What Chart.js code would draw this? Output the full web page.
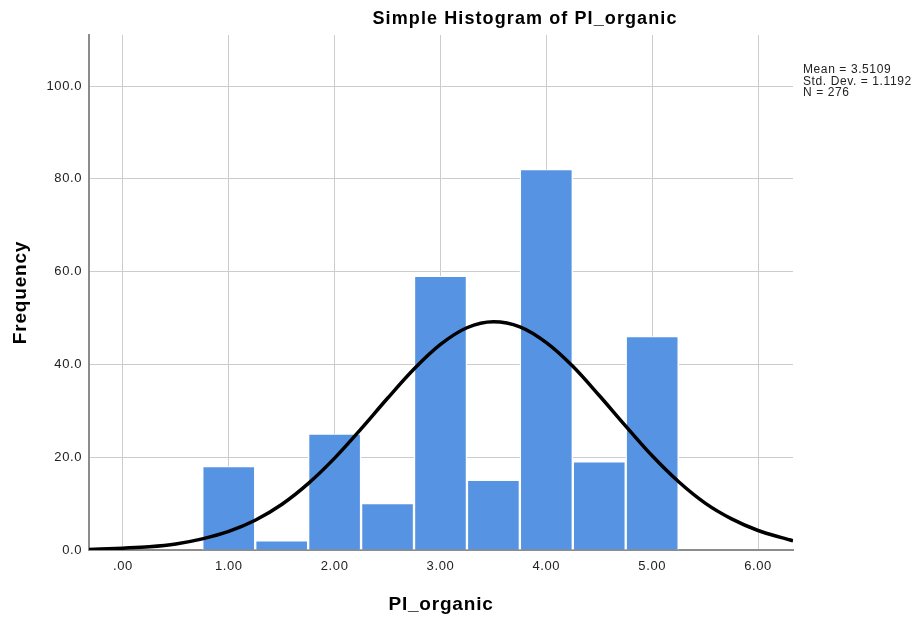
<!DOCTYPE html>
<html>
<head>
<meta charset="utf-8">
<script src="https://cdn.jsdelivr.net/npm/chart.js@4.4.1/dist/chart.umd.min.js"></script>
<style>
  html, body { margin: 0; padding: 0; background: #ffffff; }
  #wrap { width: 920px; height: 618px; position: relative; }
</style>
</head>
<body>
<div id="wrap"><canvas id="c" width="920" height="618"></canvas></div>
<script>
// Histogram bins (bin centres, width 0.5) and frequencies
const binCenters = [1.0, 1.5, 2.0, 2.5, 3.0, 3.5, 4.0, 4.5, 5.0];
const frequencies = [18, 2, 25, 10, 59, 15, 82, 19, 46];

// Normal curve points
const curveX = [-0.32, 0, 0.25, 0.5, 0.75, 1, 1.25, 1.5, 1.75, 2, 2.25, 2.5, 2.75, 3, 3.25, 3.5, 3.75, 4, 4.25, 4.5, 4.75, 5, 5.25, 5.5, 5.75, 6, 6.25, 6.33];
const curveY = [0.1, 0.4, 0.7, 1.3, 2.4, 4.0, 6.4, 9.8, 14.3, 19.8, 26.1, 32.7, 39.0, 44.3, 47.9, 49.2, 48.1, 44.7, 39.6, 33.3, 26.7, 20.3, 14.7, 10.1, 6.7, 4.2, 2.5, 2.0];

// Tick labels
const xTickValues = [0, 1, 2, 3, 4, 5, 6];
const xTickLabels = ['.00', '1.00', '2.00', '3.00', '4.00', '5.00', '6.00'];
const yTickValues = [0, 20, 40, 60, 80, 100];
const yTickLabels = ['0.0', '20.0', '40.0', '60.0', '80.0', '100.0'];

const titleText = 'Simple Histogram of PI_organic';
const xAxisTitle = 'PI_organic';
const yAxisTitle = 'Frequency';
const statsLines = ['Mean = 3.5109', 'Std. Dev. = 1.1192', 'N = 276'];

const FONT = '"Liberation Sans", Arial, sans-serif';

const spacingPlugin = {
  id: 'spacing',
  beforeDraw(chart) { chart.ctx.letterSpacing = '0.6px'; }
};

const textPlugin = {
  id: 'texts',
  afterDraw(chart) {
    const ctx = chart.ctx;
    const a = chart.chartArea;
    ctx.save();
    ctx.fillStyle = '#000';
    ctx.textAlign = 'center';
    ctx.textBaseline = 'alphabetic';
    ctx.letterSpacing = '1.1px';
    ctx.font = 'bold 18px ' + FONT;
    ctx.fillText(titleText, 525, 24);
    ctx.letterSpacing = '0.8px';
    ctx.font = 'bold 19px ' + FONT;
    ctx.fillText(xAxisTitle, (a.left + a.right) / 2, 610);
    ctx.save();
    ctx.translate(26, (a.top + a.bottom) / 2);
    ctx.rotate(-Math.PI / 2);
    ctx.fillText(yAxisTitle, 0, 0);
    ctx.restore();
    ctx.letterSpacing = '0.6px';
    ctx.font = '12px ' + FONT;
    ctx.textAlign = 'left';
    ctx.fillStyle = '#222';
    statsLines.forEach((s, i) => ctx.fillText(s, 803, 73 + i * 11.5));
    ctx.restore();
  }
};

new Chart(document.getElementById('c'), {
  type: 'bar',
  data: {
    datasets: [
      {
        type: 'line',
        data: curveX.map((x, i) => ({ x: x, y: curveY[i] })),
        borderColor: '#000000',
        borderWidth: 3.5,
        pointRadius: 0,
        fill: false,
        cubicInterpolationMode: 'monotone',
        order: 0
      },
      {
        type: 'bar',
        data: binCenters.map((x, i) => ({ x: x, y: frequencies[i] })),
        backgroundColor: '#5694E3',
        borderColor: '#ffffff',
        borderWidth: { top: 1, left: 1.5, right: 1.5, bottom: 0 },
        borderSkipped: false,
        barPercentage: 1,
        categoryPercentage: 1,
        order: 1
      }
    ]
  },
  options: {
    responsive: false,
    animation: false,
    devicePixelRatio: 1,
    layout: { padding: { left: 0, right: 127, top: 35, bottom: 0 } },
    plugins: { legend: { display: false }, tooltip: { enabled: false }, title: { display: false } },
    scales: {
      x: {
        type: 'linear',
        offset: false,
        min: -0.32,
        max: 6.33,
        afterFit(s) { s.height = 68; },
        afterBuildTicks(s) { s.ticks = xTickValues.map(v => ({ value: v })); },
        grid: { color: '#cccccc', lineWidth: 1, drawTicks: false, offset: false },
        border: { display: true, color: '#8c8c8c', width: 2 },
        ticks: {
          padding: 9,
          color: '#222',
          font: { family: FONT, size: 13 },
          maxRotation: 0,
          callback: (v) => { const i = xTickValues.indexOf(v); return i >= 0 ? xTickLabels[i] : ''; }
        }
      },
      y: {
        type: 'linear',
        min: 0,
        max: 111,
        afterFit(s) { s.width = 89; },
        afterBuildTicks(s) { s.ticks = yTickValues.map(v => ({ value: v })); },
        grid: { color: '#cccccc', lineWidth: 1, drawTicks: false },
        border: { display: true, color: '#8c8c8c', width: 2 },
        ticks: {
          padding: 7,
          color: '#222',
          font: { family: FONT, size: 13 },
          callback: (v) => { const i = yTickValues.indexOf(v); return i >= 0 ? yTickLabels[i] : ''; }
        }
      }
    }
  },
  plugins: [spacingPlugin, textPlugin]
});
</script>
</body>
</html>
